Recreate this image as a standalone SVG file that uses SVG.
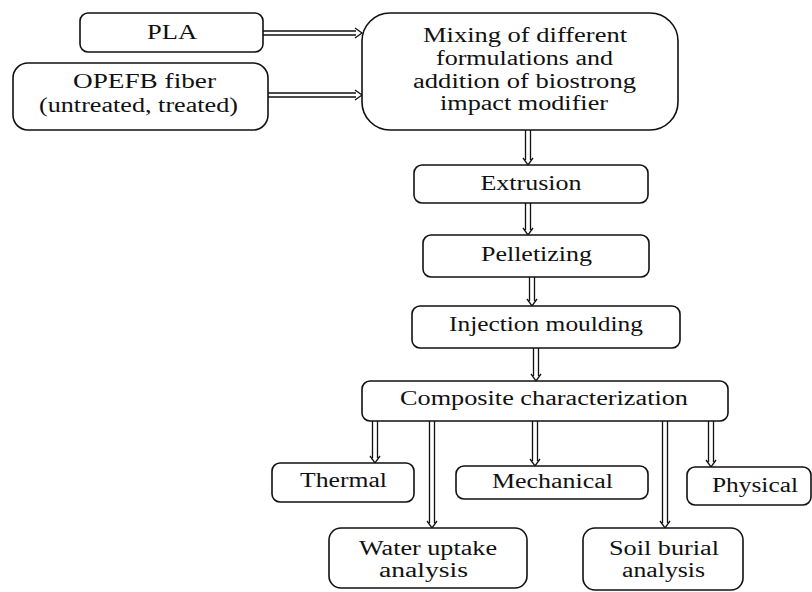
<svg xmlns="http://www.w3.org/2000/svg" width="812" height="592" viewBox="0 0 812 592">
<style>
.box{fill:#fff;stroke:#111;stroke-width:1.6}
.t{font-family:"Liberation Serif","Times New Roman",serif;font-size:20px;fill:#111;text-anchor:middle}
.arr{fill:none;stroke:#111;stroke-width:1.3}
</style>
<rect width="812" height="592" fill="#fff"/>
<g id="connectors">
<path class="arr" d="M263 31H356M263 35H356M355 28L362 33L355 38"/>
<path class="arr" d="M268 93H356M268 97H356M355 90L362 95L355 100"/>
<path class="arr" d="M525.5 130V160M530.5 130V160M523 158L528 165L533 158"/>
<path class="arr" d="M525.5 203V230M530.5 203V230M523 228L528 235L533 228"/>
<path class="arr" d="M529.5 277V301M534.5 277V301M527 299L532 306L537 299"/>
<path class="arr" d="M533.5 348V376M538.5 348V376M531 374L536 381L541 374"/>
<path class="arr" d="M372.5 421V458M377.5 421V458M370 456L375 463L380 456"/>
<path class="arr" d="M429.5 421V523M434.5 421V523M427 521L432 528L437 521"/>
<path class="arr" d="M532.5 421V461M537.5 421V461M530 459L535 466L540 459"/>
<path class="arr" d="M662.5 421V523M667.5 421V523M660 521L665 528L670 521"/>
<path class="arr" d="M708.5 421V462M713.5 421V462M706 460L711 467L716 460"/>
</g>
<g id="pla"><rect class="box" x="80" y="13" width="183" height="39" rx="8"/><text class="t" x="172" y="39" textLength="50" lengthAdjust="spacingAndGlyphs">PLA</text></g>
<g id="opefb"><rect class="box" x="13" y="63" width="255" height="67" rx="15"/><text class="t" x="144.5" y="88" textLength="143" lengthAdjust="spacingAndGlyphs">OPEFB fiber</text><text class="t" x="138.5" y="112" textLength="199" lengthAdjust="spacingAndGlyphs">(untreated, treated)</text></g>
<g id="mixing"><rect class="box" x="362" y="13" width="316" height="117" rx="28"/>
<text class="t" x="525" y="42" textLength="204" lengthAdjust="spacingAndGlyphs">Mixing of different</text>
<text class="t" x="524.5" y="65" textLength="177" lengthAdjust="spacingAndGlyphs">formulations and</text>
<text class="t" x="524.5" y="88" textLength="223" lengthAdjust="spacingAndGlyphs">addition of biostrong</text>
<text class="t" x="524" y="110" textLength="168" lengthAdjust="spacingAndGlyphs">impact modifier</text></g>
<g id="extrusion"><rect class="box" x="414" y="165" width="234" height="38" rx="8"/><text class="t" x="531" y="190" textLength="101" lengthAdjust="spacingAndGlyphs">Extrusion</text></g>
<g id="pelletizing"><rect class="box" x="423" y="235" width="226" height="42" rx="8"/><text class="t" x="536.5" y="261" textLength="111" lengthAdjust="spacingAndGlyphs">Pelletizing</text></g>
<g id="injection"><rect class="box" x="412" y="306" width="268" height="42" rx="8"/><text class="t" x="546" y="331" textLength="194" lengthAdjust="spacingAndGlyphs">Injection moulding</text></g>
<g id="composite"><rect class="box" x="362" y="381" width="366" height="40" rx="8"/><text class="t" x="544" y="405" textLength="288" lengthAdjust="spacingAndGlyphs">Composite characterization</text></g>
<g id="thermal"><rect class="box" x="272" y="463" width="142" height="39" rx="8"/><text class="t" x="343.5" y="487" textLength="87" lengthAdjust="spacingAndGlyphs">Thermal</text></g>
<g id="mechanical"><rect class="box" x="456" y="466" width="192" height="33" rx="8"/><text class="t" x="552.5" y="488" textLength="121" lengthAdjust="spacingAndGlyphs">Mechanical</text></g>
<g id="physical"><rect class="box" x="687" y="467" width="124" height="38" rx="8"/><text class="t" x="755" y="492" textLength="86" lengthAdjust="spacingAndGlyphs">Physical</text></g>
<g id="water"><rect class="box" x="329" y="528" width="198" height="60" rx="12"/><text class="t" x="428" y="555" textLength="138" lengthAdjust="spacingAndGlyphs">Water uptake</text><text class="t" x="423.5" y="577" textLength="89" lengthAdjust="spacingAndGlyphs">analysis</text></g>
<g id="soil"><rect class="box" x="583" y="528" width="160" height="62" rx="12"/><text class="t" x="664" y="555" textLength="110" lengthAdjust="spacingAndGlyphs">Soil burial</text><text class="t" x="663.5" y="577" textLength="83" lengthAdjust="spacingAndGlyphs">analysis</text></g>
</svg>
